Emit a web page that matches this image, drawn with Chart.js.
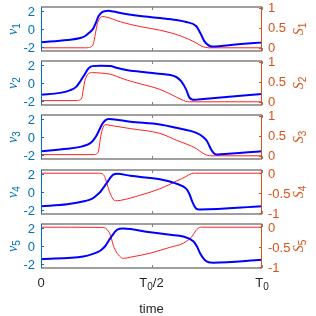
<!DOCTYPE html>
<html>
<head>
<meta charset="utf-8">
<script src="https://cdn.jsdelivr.net/npm/chart.js@4.4.1/dist/chart.umd.min.js"></script>
<style>
  body { margin: 0; background: #fff; width: 316px; height: 316px; overflow: hidden; position: relative; }
  canvas { position: absolute; left: 0; }
</style>
</head>
<body>
<canvas id="c1" width="316" height="52"></canvas>
<canvas id="c2" width="316" height="52"></canvas>
<canvas id="c3" width="316" height="52"></canvas>
<canvas id="c4" width="316" height="52"></canvas>
<canvas id="c5" width="316" height="96"></canvas>
<script>
// time is in units of T0
const xTicks = [0, 0.5, 1];
const xTickLabels = ['0', 'T_0/2', 'T_0'];
const xTitle = 'time';
const vTicks = [-2, 0, 2];
const sTicksPos = [0, 0.5, 1];
const sTicksNeg = [-1, -0.5, 0];
const vNames = ['v_1', 'v_2', 'v_3', 'v_4', 'v_5'];
const sNames = ['S_1', 'S_2', 'S_3', 'S_4', 'S_5'];

// panel 1
const tV1 = [0, .119, .178, .2, .219, .237, .25, .259, .273, .287, .305, .328, .359, .449, .538, .612, .657, .703, .721, .739, .757, .767, .778, .79, .85, 1];
const v1 = [-1.48, -1.22, -1.0, -0.78, -0.4, 0.07, 0.8, 1.37, 1.8, 1.97, 2.02, 1.95, 1.78, 1.45, 1.22, 1.0, 0.78, 0.3, -0.45, -1.35, -1.8, -1.92, -1.96, -1.95, -1.8, -1.5];
const tS1 = [0, .2, .215, .228, .237, .246, .255, .264, .277, .295, .359, .449, .538, .63, .703, .72, .734, .745, .76, 1];
const s1 = [0, 0, .005, .03, .1, .35, .6, .72, .78, .77, .65, .53, .44, .3, .12, .06, .025, .008, 0, 0];

// panel 2
const tV2 = [0, .087, .133, .16, .178, .196, .214, .232, .268, .314, .341, .386, .449, .522, .612, .635, .657, .671, .682, .695, .71, 1];
const v2 = [-1.3, -1.1, -0.8, -0.4, 0.2, 0.9, 1.6, 1.88, 1.92, 1.9, 1.7, 1.45, 1.25, 1.05, 0.67, 0.18, -0.74, -1.6, -1.82, -1.87, -1.84, -1.22];
const tS2 = [0, .165, .175, .185, .191, .2, .214, .232, .268, .314, .359, .39, .449, .538, .612, .63, .644, .655, .672, 1];
const s2 = [.03, .03, .045, .1, .3, .55, .7, .73, .72, .69, .6, .54, .45, .31, .12, .07, .035, .012, 0, 0];

// panel 3
const tV3 = [0, .119, .178, .21, .232, .25, .264, .277, .291, .305, .323, .404, .538, .612, .703, .734, .752, .77, .782, .794, .81, 1];
const v3 = [-1.58, -1.31, -1.1, -0.85, -0.5, 0.1, 0.8, 1.45, 1.85, 2.0, 1.98, 1.7, 1.39, 1.02, 0.46, 0.0, -0.5, -1.4, -1.82, -1.95, -1.93, -1.58];
const tS3 = [0, .24, .252, .26, .268, .277, .291, .314, .404, .538, .612, .703, .72, .74, .755, .77, 1];
const s3 = [.03, .03, .05, .12, .4, .65, .78, .76, .68, .56, .39, .18, .11, .04, .01, 0, 0];

// panel 4
const tV4 = [0, .119, .2, .232, .255, .268, .286, .3, .314, .327, .345, .404, .538, .612, .657, .671, .685, .696, .708, .722, 1];
const v4 = [-1.59, -1.37, -1.0, -0.75, -0.3, 0, 0.6, 1.1, 1.6, 1.93, 2.04, 1.8, 1.42, 0.93, 0.37, -0.2, -1.1, -1.65, -1.92, -1.95, -1.59];
const tS4 = [0, .265, .278, .288, .295, .309, .323, .336, .359, .449, .538, .612, .657, .668, .682, .695, 1];
const s4 = [0, 0, -.02, -.08, -.2, -.45, -.62, -.69, -.68, -.55, -.39, -.2, -.08, -.04, -.008, 0, 0];

// panel 5
const tV5 = [0, .191, .232, .268, .291, .314, .332, .345, .372, .494, .585, .644, .689, .707, .721, .739, .752, .766, .78, 1];
const v5 = [-1.47, -1.16, -0.9, -0.53, 0, 0.88, 1.5, 1.83, 1.94, 1.52, 1.25, 1.05, 0.53, -0.1, -0.87, -1.5, -1.75, -1.85, -1.86, -1.54];
const tS5 = [0, .278, .293, .305, .314, .327, .341, .359, .372, .404, .494, .585, .644, .685, .7, .712, .722, 1];
const s5 = [0, -.005, -.03, -.1, -.2, -.45, -.62, -.74, -.78, -.75, -.65, -.5, -.4, -.22, -.09, -.025, 0, 0];

const LEFT_C = '#0072BD';
const RIGHT_C = '#D95319';
const BOX_C = '#808080';
const TXT_C = '#262626';
const PLOT_L = 41, PLOT_R = 262, PLOT_H = 44;
const panelTops = [7, 61, 115, 170, 224];
const TICK_FONT = '13px "Liberation Sans", Arial, sans-serif';
const SUB_FONT = '10px "Liberation Sans", Arial, sans-serif';
const NAME_FONT = 'italic 14px "Liberation Serif", serif';

function pts(t, y) {
  return t.map((v, i) => ({ x: v, y: y[i] }));
}

// draw text with a "_x" subscript
function drawRich(ctx, text, x, y, font, subFont, align) {
  const parts = [];
  let i = 0;
  while (i < text.length) {
    if (text[i] === '_') { parts.push({ s: text[i + 1], sub: true }); i += 2; }
    else {
      let j = text.indexOf('_', i);
      if (j < 0) j = text.length;
      parts.push({ s: text.slice(i, j), sub: false });
      i = j;
    }
  }
  let w = 0;
  parts.forEach(p => { ctx.font = p.sub ? subFont : font; p.w = ctx.measureText(p.s).width; w += p.w; });
  let cx = align === 'center' ? x - w / 2 : align === 'right' ? x - w : x;
  ctx.textAlign = 'left';
  ctx.textBaseline = 'middle';
  parts.forEach(p => {
    ctx.font = p.sub ? subFont : font;
    ctx.fillText(p.s, cx, p.sub ? y + 4 : y);
    cx += p.w;
  });
}

const framePlugin = {
  id: 'frame',
  afterDatasetsDraw(chart, args, o) {
    const { ctx, chartArea: a } = chart;
    const sx = chart.scales.x, yl = chart.scales.y, yr = chart.scales.y2;
    ctx.save();
    // top and bottom edges
    ctx.strokeStyle = BOX_C;
    ctx.lineWidth = 1.5;
    ctx.beginPath();
    ctx.moveTo(a.left, a.top); ctx.lineTo(a.right, a.top);
    ctx.moveTo(a.left, a.bottom); ctx.lineTo(a.right, a.bottom);
    ctx.stroke();
    ctx.lineWidth = 1;
    ctx.beginPath();
    xTicks.forEach(v => {
      const px = Math.round(sx.getPixelForValue(v)) + 0.5;
      ctx.moveTo(px, a.top); ctx.lineTo(px, a.top + 3);
      ctx.moveTo(px, a.bottom); ctx.lineTo(px, a.bottom - 3);
    });
    ctx.stroke();
    // left axis
    ctx.strokeStyle = LEFT_C;
    ctx.beginPath();
    ctx.moveTo(a.left + 0.5, a.top); ctx.lineTo(a.left + 0.5, a.bottom);
    vTicks.forEach(v => {
      const py = Math.round(yl.getPixelForValue(v)) + 0.5;
      ctx.moveTo(a.left, py); ctx.lineTo(a.left + 3, py);
    });
    ctx.stroke();
    ctx.fillStyle = LEFT_C;
    ctx.font = TICK_FONT;
    ctx.textAlign = 'right';
    ctx.textBaseline = 'middle';
    vTicks.forEach(v => ctx.fillText(String(v), a.left - 6, yl.getPixelForValue(v) + 1));
    // right axis
    ctx.strokeStyle = RIGHT_C;
    ctx.beginPath();
    ctx.moveTo(a.right - 0.5, a.top); ctx.lineTo(a.right - 0.5, a.bottom);
    o.sTicks.forEach(v => {
      const py = Math.round(yr.getPixelForValue(v)) + 0.5;
      ctx.moveTo(a.right, py); ctx.lineTo(a.right - 3, py);
    });
    ctx.stroke();
    ctx.fillStyle = RIGHT_C;
    ctx.font = TICK_FONT;
    ctx.textAlign = 'left';
    o.sTicks.forEach(v => ctx.fillText(String(v), a.right + 6, yr.getPixelForValue(v) + 1));
    // axis names
    const cy = (a.top + a.bottom) / 2;
    ctx.save();
    ctx.translate(13, cy);
    ctx.rotate(-Math.PI / 2);
    ctx.fillStyle = LEFT_C;
    drawRich(ctx, o.vName, 0, 0, NAME_FONT, SUB_FONT, 'center');
    ctx.restore();
    ctx.save();
    ctx.translate(299, cy);
    ctx.rotate(-Math.PI / 2);
    ctx.fillStyle = RIGHT_C;
    drawRich(ctx, o.sName, 0, 0, NAME_FONT, SUB_FONT, 'center');
    ctx.restore();
    // x tick labels + title on the bottom panel
    if (o.showX) {
      ctx.fillStyle = TXT_C;
      xTicks.forEach((v, i) => drawRich(ctx, xTickLabels[i], sx.getPixelForValue(v), a.bottom + 15, TICK_FONT, SUB_FONT, 'center'));
      drawRich(ctx, xTitle, (a.left + a.right) / 2, a.bottom + 41, TICK_FONT, SUB_FONT, 'center');
    }
    ctx.restore();
  }
};

function makePanel(k, tV, vv, tS, ss, sMin, sMax, sTicks) {
  const cv = document.getElementById('c' + (k + 1));
  cv.style.top = (panelTops[k] - 4) + 'px';
  const padBottom = cv.height - 4 - PLOT_H;
  new Chart(cv, {
    type: 'line',
    data: {
      datasets: [
        {
          data: pts(tV, vv),
          yAxisID: 'y',
          borderColor: '#0000ff',
          borderWidth: 2,
          cubicInterpolationMode: 'monotone',
          pointRadius: 0,
        },
        {
          data: pts(tS, ss),
          yAxisID: 'y2',
          borderColor: '#ff2020',
          borderWidth: 1,
          cubicInterpolationMode: 'monotone',
          pointRadius: 0,
        },
      ],
    },
    options: {
      responsive: false,
      animation: false,
      events: [],
      layout: { padding: { left: PLOT_L, right: 316 - PLOT_R, top: 4, bottom: padBottom } },
      plugins: {
        legend: { display: false },
        tooltip: { enabled: false },
        frame: { sTicks: sTicks, vName: vNames[k], sName: sNames[k], showX: k === 4 },
      },
      scales: {
        x: { type: 'linear', min: 0, max: 1, display: false },
        y: { min: -2.45, max: 2.45, display: false },
        y2: { min: sMin, max: sMax, display: false, position: 'right' },
      },
    },
    plugins: [framePlugin],
  });
}

makePanel(0, tV1, v1, tS1, s1, -0.08, 1.02, sTicksPos);
makePanel(1, tV2, v2, tS2, s2, -0.08, 1.02, sTicksPos);
makePanel(2, tV3, v3, tS3, s3, -0.08, 1.02, sTicksPos);
makePanel(3, tV4, v4, tS4, s4, -1.02, 0.08, sTicksNeg);
makePanel(4, tV5, v5, tS5, s5, -1.02, 0.08, sTicksNeg);
</script>
</body>
</html>
